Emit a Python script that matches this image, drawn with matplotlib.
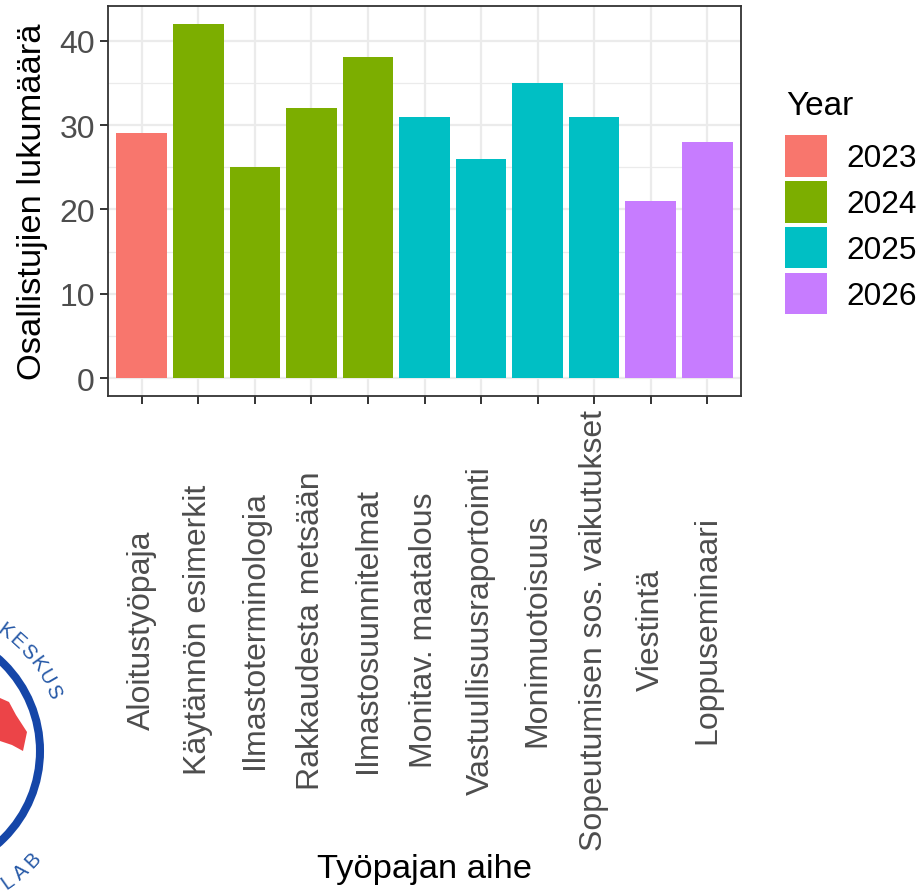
import matplotlib
matplotlib.use("Agg")
import matplotlib.pyplot as plt
from matplotlib.patches import Circle, Polygon, Patch
from matplotlib.transforms import Affine2D
import numpy as np

plt.rcParams['font.family'] = ['Liberation Sans', 'DejaVu Sans']

# ---- data ----
topics = ["Aloitustyöpaja", "Käytännön esimerkit", "Ilmastoterminologia",
          "Rakkaudesta metsään", "Ilmastosuunnitelmat", "Monitav. maatalous",
          "Vastuullisuusraportointi", "Monimuotoisuus",
          "Sopeutumisen sos. vaikutukset", "Viestintä", "Loppuseminaari"]
participants = [29, 42, 25, 32, 38, 31, 26, 35, 31, 21, 28]
years = ["2023", "2024", "2024", "2024", "2024", "2025", "2025", "2025", "2025", "2026", "2026"]
year_levels = ["2023", "2024", "2025", "2026"]
year_colors = ["#F8766D", "#7CAE00", "#00BFC4", "#C77CFF"]
y_ticks = [0, 10, 20, 30, 40]

W, H = 923, 895
fig = plt.figure(figsize=(W / 100, H / 100), dpi=100)
ax = fig.add_axes([108 / W, 1 - 397 / H, (741 - 108) / W, (397 - 7) / H])

cmap = dict(zip(year_levels, year_colors))
x = np.arange(1, len(topics) + 1)
ax.bar(x, participants, width=0.9, color=[cmap[y] for y in years], zorder=3)

ax.set_xlim(0.4, len(topics) + 0.6)
ax.set_ylim(-2.1, 44.1)

# grid
grid_c = "#EBEBEB"
for v in [5, 15, 25, 35]:
    ax.axhline(v, color=grid_c, lw=0.9, zorder=1)
for v in y_ticks:
    ax.axhline(v, color=grid_c, lw=1.6, zorder=1)
for v in x:
    ax.axvline(v, color=grid_c, lw=1.6, zorder=1)

for s in ax.spines.values():
    s.set_color("#333333")
    s.set_linewidth(1.3)

ax.set_yticks(y_ticks)
ax.set_yticklabels([str(v) for v in y_ticks])
ax.set_xticks(x)
ax.set_xticklabels(topics, rotation=90, ha='center', va='center')
ax.tick_params(axis='both', colors="#333333", width=1.4, length=5.5,
               labelsize=23, labelcolor="#4D4D4D")
ax.tick_params(axis='y', pad=4)
ax.tick_params(axis='x', pad=162.5)

ax.set_ylabel("Osallistujien lukumäärä", fontsize=24.8, labelpad=8)
ax.set_xlabel("Työpajan aihe", fontsize=24.8, labelpad=2)

# legend
handles = [Patch(facecolor=c, edgecolor='none', label=l) for l, c in zip(year_levels, year_colors)]
leg = fig.legend(handles=handles, loc='upper left',
                 bbox_to_anchor=(785 / W, 1 - 136 / H), frameon=False,
                 fontsize=22.8, handlelength=1.33,
                 handleheight=1.65, labelspacing=0.13, handletextpad=0.6,
                 borderpad=0, borderaxespad=0)
fig.text(786 / W, 1 - 115 / H, "Year", fontsize=24, ha='left', va='baseline')

# ---- logo (partially visible, bottom-left) ----
px = Affine2D().scale(1 / W, 1 / H) + fig.transFigure
def P(xp, yp):
    return (xp, H - yp)
cx, cy = -83, 752
ring = Circle(P(cx, cy), 123, transform=px,
              fill=False, edgecolor="#1546A8", linewidth=5.8)
fig.add_artist(ring)
red = Polygon([P(0, 699), P(9, 703), P(16, 716), P(27, 733), P(23, 752), P(12, 746), P(0, 742)],
              closed=True, facecolor="#EC4448", edgecolor='none', transform=px)
fig.add_artist(red)
logo_c = "#2457A6"
top_letters = "KESKUS"
angs = np.linspace(54, 24, len(top_letters))
for ch, a in zip(top_letters, angs):
    r = 149
    xx = cx + r * np.cos(np.radians(a))
    yy = cy - r * np.sin(np.radians(a))
    fig.text(xx / W, 1 - yy / H, ch, rotation=a - 90, ha='center', va='center',
             fontsize=14.5, color=logo_c, rotation_mode='anchor')
bot_letters = "LAB"
angs_b = np.linspace(-55, -43, len(bot_letters))
for ch, a in zip(bot_letters, angs_b):
    r = 159
    xx = cx + r * np.cos(np.radians(a))
    yy = cy - r * np.sin(np.radians(a))
    fig.text(xx / W, 1 - yy / H, ch, rotation=a + 90, ha='center', va='center',
             fontsize=14.5, color=logo_c, rotation_mode='anchor')

fig.savefig("out.png", dpi=100)
